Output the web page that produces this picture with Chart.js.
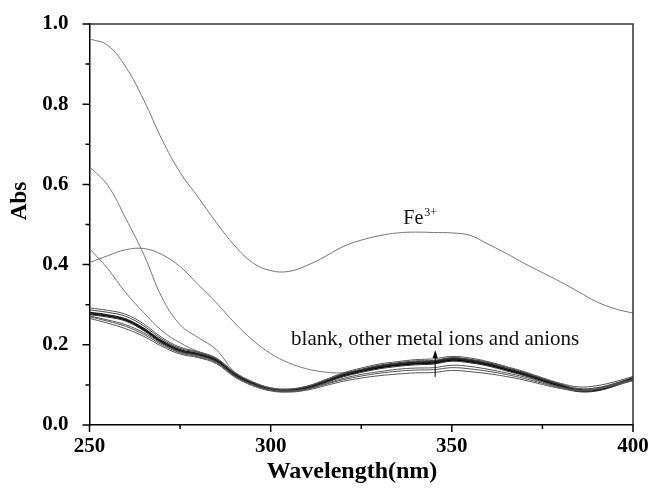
<!DOCTYPE html>
<html>
<head>
<meta charset="utf-8">
<script src="https://cdn.jsdelivr.net/npm/chart.js@4"></script>
<style>
  html, body { margin: 0; padding: 0; background: #fff; }
  #wrap { width: 653px; height: 489px; }
</style>
</head>
<body>
<div id="wrap"><canvas id="c" width="653" height="489"></canvas></div>
<script>
const wavelengths = [250,255,260,265,270,275,280,285,290,295,300,305,310,315,320,325,330,335,340,345,350,355,360,365,370,375,380,385,390,395,400];

const fe3 = [0.963,0.947,0.893,0.810,0.712,0.630,0.568,0.505,0.448,0.405,0.385,0.383,0.398,0.420,0.445,0.461,0.472,0.479,0.481,0.480,0.479,0.473,0.451,0.428,0.403,0.380,0.357,0.332,0.307,0.290,0.279];
const curveA = [0.644,0.598,0.515,0.425,0.318,0.250,0.218,0.188,0.132,0.104,0.090,0.087,0.094,0.109,0.125,0.136,0.145,0.151,0.155,0.157,0.164,0.160,0.152,0.140,0.128,0.113,0.099,0.087,0.089,0.101,0.117];
const curveB = [0.440,0.390,0.330,0.280,0.235,0.205,0.183,0.165,0.129,0.106,0.091,0.088,0.095,0.110,0.127,0.138,0.148,0.154,0.158,0.160,0.167,0.163,0.155,0.142,0.130,0.115,0.101,0.089,0.091,0.103,0.118];
const curveC = [0.405,0.422,0.437,0.440,0.425,0.395,0.350,0.305,0.255,0.212,0.178,0.155,0.140,0.132,0.130,0.135,0.143,0.149,0.153,0.155,0.161,0.157,0.149,0.137,0.125,0.110,0.096,0.085,0.087,0.099,0.115];

const blankM1 = [0.278,0.272,0.262,0.238,0.207,0.185,0.176,0.160,0.125,0.103,0.088,0.085,0.092,0.107,0.123,0.134,0.143,0.149,0.153,0.155,0.162,0.158,0.150,0.138,0.126,0.111,0.097,0.085,0.087,0.099,0.116];
const blankM2 = [0.281,0.275,0.265,0.241,0.210,0.188,0.178,0.163,0.128,0.105,0.090,0.087,0.094,0.109,0.126,0.137,0.147,0.153,0.157,0.159,0.166,0.162,0.153,0.141,0.129,0.114,0.100,0.088,0.089,0.101,0.118];
const blankM3 = [0.275,0.269,0.259,0.235,0.204,0.183,0.174,0.158,0.123,0.101,0.087,0.084,0.090,0.105,0.120,0.131,0.140,0.146,0.150,0.152,0.159,0.155,0.147,0.135,0.123,0.108,0.094,0.083,0.085,0.097,0.114];
const blankM4 = [0.279,0.273,0.263,0.240,0.208,0.186,0.177,0.161,0.126,0.104,0.089,0.086,0.093,0.108,0.124,0.136,0.145,0.151,0.155,0.157,0.164,0.160,0.152,0.140,0.127,0.112,0.098,0.086,0.088,0.100,0.117];
const blankU1 = [0.292,0.286,0.276,0.252,0.218,0.194,0.183,0.167,0.132,0.108,0.093,0.090,0.097,0.113,0.130,0.142,0.152,0.158,0.163,0.165,0.171,0.167,0.158,0.146,0.133,0.118,0.104,0.095,0.098,0.108,0.121];
const blankU2 = [0.287,0.281,0.271,0.247,0.214,0.191,0.181,0.165,0.130,0.107,0.092,0.089,0.096,0.111,0.128,0.139,0.149,0.155,0.160,0.161,0.168,0.164,0.156,0.144,0.131,0.116,0.102,0.091,0.093,0.104,0.119];
const blankL1 = [0.270,0.259,0.246,0.226,0.200,0.180,0.170,0.155,0.122,0.100,0.087,0.084,0.089,0.101,0.113,0.122,0.129,0.134,0.137,0.138,0.143,0.140,0.134,0.126,0.116,0.104,0.093,0.086,0.090,0.101,0.112];
const blankL2 = [0.266,0.254,0.240,0.221,0.196,0.177,0.168,0.153,0.120,0.098,0.085,0.082,0.087,0.098,0.109,0.117,0.123,0.127,0.130,0.131,0.136,0.133,0.128,0.121,0.112,0.101,0.091,0.085,0.089,0.099,0.110];
const blankL3 = [0.272,0.262,0.250,0.230,0.203,0.182,0.172,0.157,0.123,0.101,0.088,0.085,0.090,0.103,0.116,0.126,0.133,0.139,0.142,0.143,0.149,0.146,0.139,0.130,0.120,0.107,0.095,0.087,0.090,0.102,0.113];

const xTickValues = [250,275,300,325,350,375,400];
const yTickValues = [0,0.1,0.2,0.3,0.4,0.5,0.6,0.7,0.8,0.9,1.0];

function pts(arr) { return arr.map((v, i) => ({x: wavelengths[i], y: v})); }

const SERIF = '"Liberation Serif", "Times New Roman", serif';

function ds(data, color, width) {
  return {
    data: pts(data),
    borderColor: color,
    borderWidth: width,
    pointRadius: 0,
    fill: false,
    tension: 0.4
  };
}

const datasets = [
  ds(blankL2, '#555', 1),
  ds(blankL1, '#555', 1),
  ds(blankL3, '#555', 1),
  ds(blankU1, '#555', 1),
  ds(blankU2, '#444', 1),
  ds(blankM3, '#333', 1),
  ds(blankM4, '#222', 1.2),
  ds(blankM2, '#222', 1.2),
  ds(blankM1, '#000', 1.6),
  ds(curveA, '#777', 1),
  ds(curveB, '#777', 1),
  ds(curveC, '#777', 1),
  ds(fe3, '#777', 1)
];

const decorPlugin = {
  id: 'decor',
  afterDraw(chart) {
    const ctx = chart.ctx;
    const xs = chart.scales.x, ys = chart.scales.y;
    const ca = chart.chartArea;
    ctx.save();
    ctx.strokeStyle = '#333';
    ctx.lineWidth = 1.5;
    ctx.beginPath();
    ctx.moveTo(ca.left, ca.top);
    ctx.lineTo(ca.right, ca.top);
    ctx.lineTo(ca.right, ca.bottom);
    ctx.stroke();
    ctx.strokeStyle = '#000';
    ctx.lineWidth = 1.5;
    ctx.beginPath();
    xTickValues.forEach(v => {
      const px = xs.getPixelForValue(v);
      const len = (v % 50 === 0) ? 7 : 4;
      ctx.moveTo(px, ca.bottom);
      ctx.lineTo(px, ca.bottom + len);
    });
    yTickValues.forEach(v => {
      const py = ys.getPixelForValue(v);
      const len = (Math.round(v * 10) % 2 === 0) ? 7 : 4;
      ctx.moveTo(ca.left, py);
      ctx.lineTo(ca.left - len, py);
    });
    ctx.stroke();

    const ax = xs.getPixelForValue(345.4);
    const ay0 = ys.getPixelForValue(0.12);
    const ay1 = ys.getPixelForValue(0.187);
    ctx.strokeStyle = '#000';
    ctx.lineWidth = 1;
    ctx.beginPath();
    ctx.moveTo(ax, ay0);
    ctx.lineTo(ax, ay1 + 6);
    ctx.stroke();
    ctx.fillStyle = '#000';
    ctx.beginPath();
    ctx.moveTo(ax, ay1);
    ctx.lineTo(ax - 2.5, ay1 + 8);
    ctx.lineTo(ax + 2.5, ay1 + 8);
    ctx.closePath();
    ctx.fill();

    ctx.fillStyle = '#111';
    ctx.font = '21px ' + SERIF;
    ctx.textAlign = 'center';
    ctx.textBaseline = 'alphabetic';
    ctx.fillText('blank, other metal ions and anions', ax, ys.getPixelForValue(0.2));

    const fx = xs.getPixelForValue(336.6);
    const fy = ys.getPixelForValue(0.501);
    ctx.textAlign = 'left';
    ctx.font = '20px ' + SERIF;
    ctx.fillText('Fe', fx, fy);
    const w = ctx.measureText('Fe').width;
    ctx.font = '12px ' + SERIF;
    ctx.fillText('3+', fx + w + 1, fy - 8);

    ctx.fillStyle = '#000';
    ctx.font = 'bold 24px ' + SERIF;
    ctx.textAlign = 'center';
    ctx.textBaseline = 'middle';
    ctx.fillText('Wavelength(nm)', 352, 472);
    ctx.save();
    ctx.translate(20, 201);
    ctx.rotate(-Math.PI / 2);
    ctx.font = 'bold 23px ' + SERIF;
    ctx.fillText('Abs', 0, 0);
    ctx.restore();

    ctx.restore();
  }
};

new Chart(document.getElementById('c'), {
  type: 'line',
  data: { datasets },
  options: {
    responsive: false,
    animation: false,
    events: [],
    layout: { padding: { left: 0, right: 20, top: 24, bottom: 0 } },
    plugins: { legend: { display: false }, tooltip: { enabled: false } },
    scales: {
      x: {
        type: 'linear',
        min: 250, max: 400,
        afterFit(s) { s.height = 64; },
        grid: { display: false },
        border: { display: true, color: '#000', width: 1.5 },
        ticks: {
          stepSize: 50,
          padding: 1,
          color: '#000',
          font: { family: SERIF, size: 21, weight: 'bold' },
          maxRotation: 0,
          callback: v => String(v)
        }
      },
      y: {
        type: 'linear',
        min: 0, max: 1,
        afterFit(s) { s.width = 89.5; },
        grid: { display: true, drawOnChartArea: false, drawTicks: true, tickLength: 20, tickColor: 'rgba(0,0,0,0)' },
        border: { display: true, color: '#000', width: 1.5 },
        ticks: {
          stepSize: 0.2,
          padding: 1,
          color: '#000',
          font: { family: SERIF, size: 21, weight: 'bold' },
          callback: v => v.toFixed(1)
        }
      }
    }
  },
  plugins: [decorPlugin]
});
</script>
</body>
</html>
